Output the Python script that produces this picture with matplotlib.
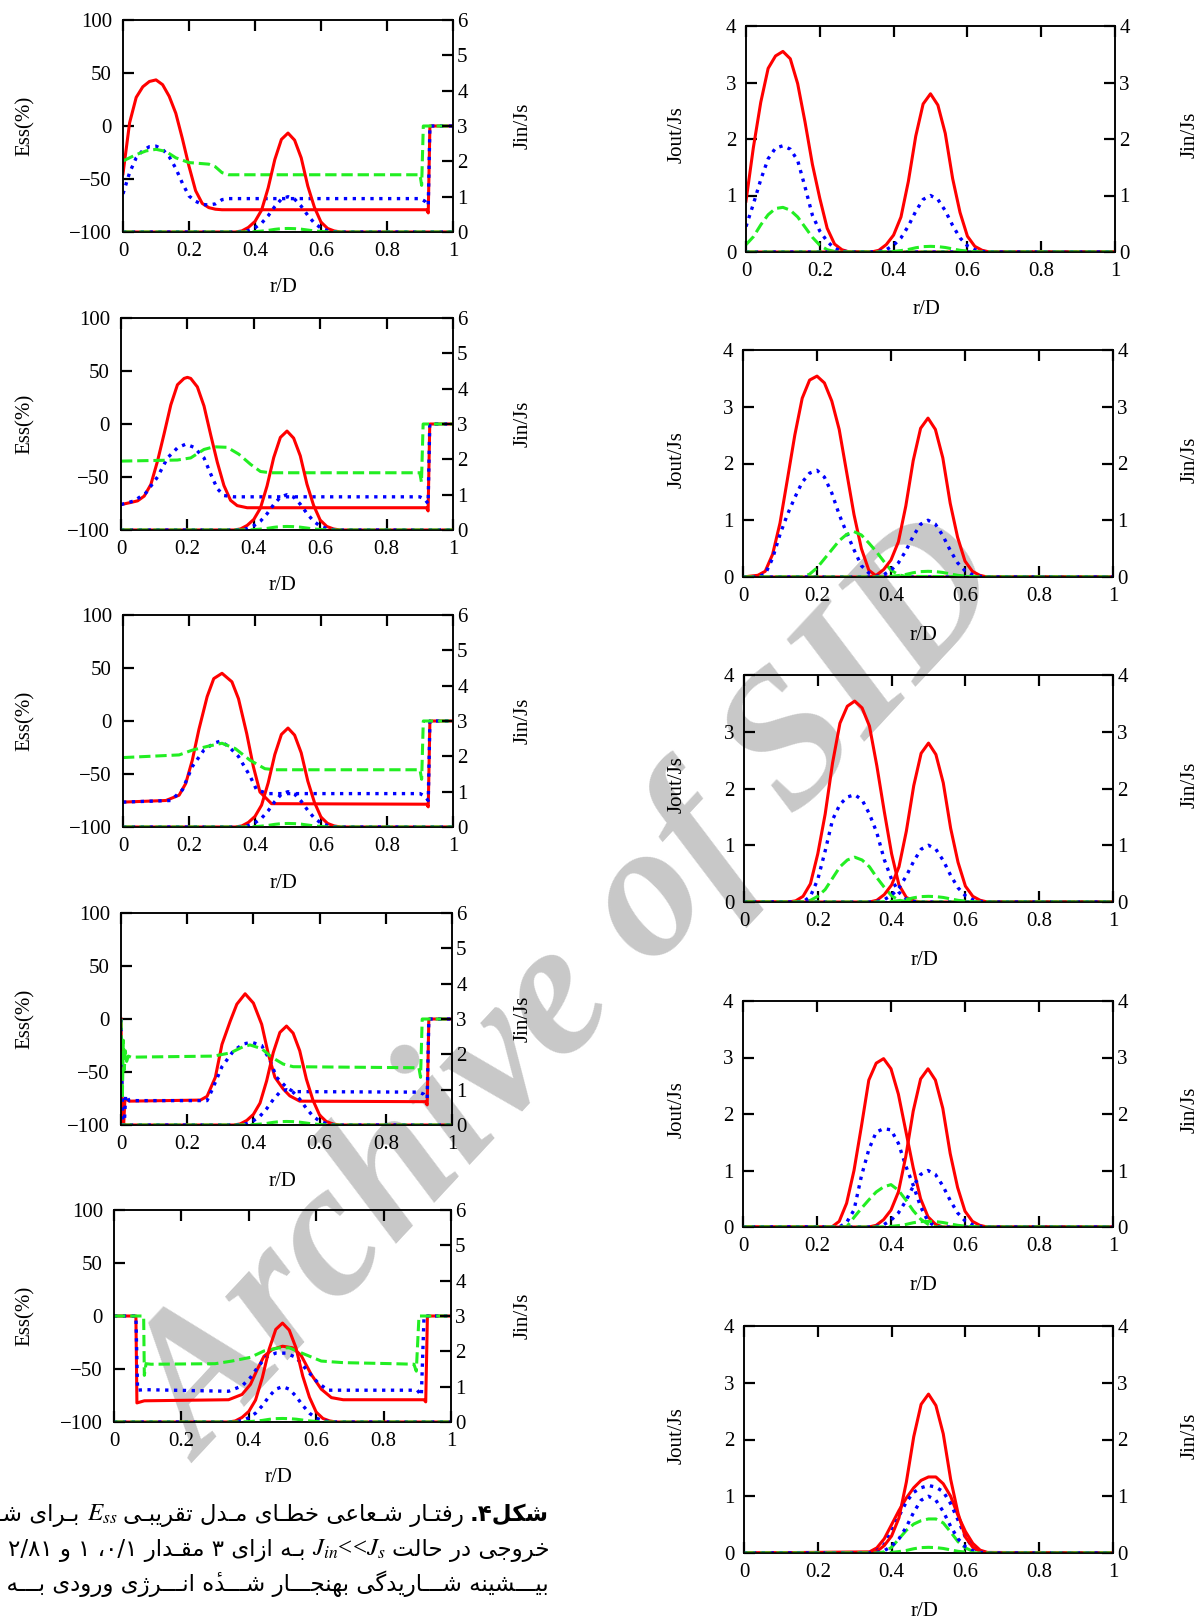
import re
import matplotlib
matplotlib.use('Agg')
import matplotlib.pyplot as plt

plt.rcParams['font.family'] = ['Liberation Serif', 'DejaVu Sans']
plt.rcParams['mathtext.fontset'] = 'stix'

W, H = 1202, 1622

# ---------------- data ----------------
rTicks = [0, 0.2, 0.4, 0.6, 0.8, 1.0]
rTickLabels = ['0', '0.2', '0.4', '0.6', '0.8', '1']
essTicks = [-100, -50, 0, 50, 100]
jinTicksLeft = [0, 1, 2, 3, 4, 5, 6]
joutTicks = [0, 1, 2, 3, 4]

# input flux Jin/Js (same in every panel)
jinX = [0.0, 0.34, 0.36, 0.38, 0.40, 0.42, 0.44, 0.46, 0.48, 0.50, 0.52, 0.54, 0.56, 0.58, 0.60, 0.62, 0.64, 0.66, 1.0]
jinRed = [0, 0, 0.03, 0.13, 0.3, 0.62, 1.25, 2.05, 2.62, 2.8, 2.6, 2.1, 1.3, 0.7, 0.28, 0.1, 0.03, 0, 0]
jinBlue = [0, 0, 0.01, 0.04, 0.12, 0.25, 0.46, 0.72, 0.93, 1.0, 0.93, 0.73, 0.47, 0.25, 0.11, 0.04, 0.01, 0, 0]
jinGreen = [0, 0, 0, 0.005, 0.01, 0.025, 0.045, 0.075, 0.095, 0.1, 0.095, 0.08, 0.055, 0.03, 0.015, 0.005, 0, 0, 0]

# output flux Jout/Js, right column
r1X = [0, 0.02, 0.04, 0.06, 0.08, 0.10, 0.12, 0.14, 0.16, 0.18, 0.20, 0.22, 0.24, 0.26, 0.28, 1.0]
r1Red = [0.9, 1.85, 2.65, 3.25, 3.47, 3.55, 3.42, 2.98, 2.3, 1.55, 0.95, 0.42, 0.14, 0.04, 0, 0]
r1Blue = [0.45, 0.85, 1.28, 1.65, 1.84, 1.88, 1.82, 1.62, 1.15, 0.65, 0.37, 0.19, 0.06, 0.02, 0, 0]
r1Green = [0.13, 0.27, 0.48, 0.66, 0.77, 0.79, 0.74, 0.62, 0.44, 0.26, 0.12, 0.04, 0.01, 0, 0, 0]

r2X = [0, 0.04, 0.06, 0.08, 0.10, 0.12, 0.14, 0.16, 0.18, 0.20, 0.22, 0.24, 0.26, 0.28, 0.30, 0.32, 0.34, 0.36, 0.38, 0.40, 0.42, 0.44, 1.0]
r2Red = [0, 0.03, 0.1, 0.4, 0.95, 1.72, 2.5, 3.15, 3.47, 3.54, 3.42, 3.1, 2.6, 1.85, 1.1, 0.5, 0.12, 0.02, 0, 0, 0, 0, 0]
r2Blue = [0, 0, 0.05, 0.33, 0.75, 1.1, 1.4, 1.67, 1.83, 1.88, 1.76, 1.48, 1.1, 0.78, 0.48, 0.2, 0.07, 0.02, 0, 0, 0, 0, 0]
r2Green = [0, 0, 0, 0, 0, 0, 0, 0, 0.05, 0.16, 0.32, 0.48, 0.64, 0.75, 0.8, 0.74, 0.6, 0.45, 0.28, 0.12, 0.04, 0.01, 0]

r3X = [0, 0.12, 0.14, 0.16, 0.18, 0.20, 0.22, 0.24, 0.26, 0.28, 0.30, 0.32, 0.34, 0.36, 0.38, 0.40, 0.42, 0.44, 0.46, 0.48, 1.0]
r3Red = [0, 0, 0.02, 0.1, 0.32, 0.85, 1.55, 2.45, 3.15, 3.45, 3.54, 3.42, 3.1, 2.4, 1.6, 0.85, 0.3, 0.08, 0.02, 0, 0]
r3Blue = [0, 0, 0, 0, 0.1, 0.4, 0.9, 1.45, 1.72, 1.85, 1.89, 1.8, 1.55, 1.22, 0.75, 0.4, 0.17, 0.05, 0.01, 0, 0]
r3Green = [0, 0, 0, 0, 0.03, 0.1, 0.22, 0.42, 0.62, 0.74, 0.79, 0.74, 0.62, 0.43, 0.26, 0.11, 0.03, 0.01, 0, 0, 0]

r4X = [0, 0.24, 0.26, 0.28, 0.30, 0.32, 0.34, 0.36, 0.38, 0.40, 0.42, 0.44, 0.46, 0.48, 0.50, 0.52, 0.54, 1.0]
r4Red = [0, 0, 0.1, 0.42, 1.0, 1.78, 2.6, 2.9, 2.98, 2.8, 2.35, 1.7, 1.05, 0.5, 0.18, 0.05, 0, 0]
r4Blue = [0, 0, 0, 0.08, 0.3, 0.9, 1.37, 1.68, 1.74, 1.72, 1.48, 1.08, 0.74, 0.36, 0.1, 0.01, 0, 0]
r4Green = [0, 0, 0, 0, 0.17, 0.33, 0.48, 0.62, 0.71, 0.75, 0.65, 0.48, 0.29, 0.14, 0.05, 0, 0, 0]

r5X = [0, 0.34, 0.36, 0.38, 0.40, 0.42, 0.44, 0.46, 0.48, 0.50, 0.52, 0.54, 0.56, 0.58, 0.60, 0.62, 0.64, 0.66, 1.0]
r5Red = [0, 0.02, 0.09, 0.25, 0.5, 0.75, 0.97, 1.15, 1.28, 1.34, 1.34, 1.22, 1.0, 0.66, 0.38, 0.17, 0.05, 0.01, 0]
r5Blue = [0, 0, 0.04, 0.15, 0.38, 0.65, 0.9, 1.07, 1.15, 1.19, 1.16, 1.08, 0.87, 0.58, 0.28, 0.1, 0.02, 0, 0]
r5Green = [0, 0, 0, 0.02, 0.1, 0.25, 0.4, 0.51, 0.57, 0.6, 0.6, 0.53, 0.37, 0.2, 0.09, 0.03, 0, 0, 0]

# error Ess(%), left column
l1RedX = [0, 0.02, 0.04, 0.06, 0.08, 0.10, 0.12, 0.14, 0.16, 0.18, 0.20, 0.22, 0.24, 0.26, 0.28, 0.30, 0.92, 0.925, 0.93, 1.0]
l1Red = [-45, 3, 27, 37, 42, 43.5, 39, 28, 12, -12, -38, -61, -73, -77, -78.5, -79, -79, -82, 0, 0]
l1BlueX = [0, 0.02, 0.04, 0.06, 0.08, 0.10, 0.12, 0.14, 0.16, 0.18, 0.20, 0.22, 0.24, 0.26, 0.28, 0.30, 0.32, 0.90, 0.915, 0.925, 0.93, 1.0]
l1Blue = [-64, -44, -30, -23, -19.5, -19, -22, -29, -40, -54, -66, -71, -74, -74.5, -73.5, -69.5, -68.5, -68.5, -71, -75, 0, 0]
l1GreenX = [0, 0.04, 0.07, 0.10, 0.13, 0.16, 0.20, 0.26, 0.28, 0.30, 0.32, 0.90, 0.905, 0.91, 1.0]
l1Green = [-33, -27, -23.5, -22, -24, -30, -34.5, -36, -38.5, -44, -46, -46, -56, 0, 0]

l2RedX = [0, 0.03, 0.05, 0.07, 0.09, 0.11, 0.13, 0.15, 0.17, 0.19, 0.20, 0.21, 0.23, 0.25, 0.27, 0.29, 0.31, 0.33, 0.35, 0.38, 0.92, 0.925, 0.93, 1.0]
l2Red = [-76, -74, -72.5, -68, -57, -35, -9, 18, 37, 43, 44, 43, 35, 17, -10, -36, -58, -72, -77, -79, -79, -82, 0, 0]
l2BlueX = [0, 0.04, 0.075, 0.11, 0.14, 0.17, 0.195, 0.22, 0.25, 0.27, 0.29, 0.31, 0.34, 0.90, 0.915, 0.925, 0.93, 1.0]
l2Blue = [-76, -72.5, -65, -50, -32, -22.5, -19, -22, -32, -47, -61, -67.5, -68.7, -68.7, -71, -75, 0, 0]
l2GreenX = [0, 0.17, 0.21, 0.25, 0.28, 0.32, 0.355, 0.39, 0.42, 0.45, 0.90, 0.905, 0.91, 1.0]
l2Green = [-35, -34, -32, -24, -21.5, -22, -28.5, -38, -44.8, -46, -46, -55, 0, 0]

l3RedX = [0, 0.13, 0.17, 0.19, 0.21, 0.23, 0.255, 0.275, 0.30, 0.33, 0.35, 0.375, 0.395, 0.415, 0.45, 0.92, 0.925, 0.93, 1.0]
l3Red = [-76.5, -75, -70, -59, -37, -8, 23, 40, 45, 37, 21, -12, -43, -67, -78, -78.5, -81, 0, 0]
l3BlueX = [0, 0.145, 0.18, 0.21, 0.245, 0.275, 0.295, 0.32, 0.35, 0.385, 0.405, 0.44, 0.90, 0.915, 0.925, 0.93, 1.0]
l3Blue = [-76.5, -75, -65, -43, -27.5, -21, -19, -24, -33.5, -52, -65, -68.5, -68.5, -71, -75, 0, 0]
l3GreenX = [0, 0.17, 0.21, 0.255, 0.30, 0.34, 0.385, 0.43, 0.46, 0.90, 0.905, 0.91, 1.0]
l3Green = [-34.5, -32, -27.5, -24, -21, -26, -37, -45, -46, -46, -55, 0, 0]

l4RedX = [0, 0.004, 0.008, 0.012, 0.025, 0.24, 0.26, 0.285, 0.305, 0.33, 0.35, 0.375, 0.40, 0.425, 0.445, 0.465, 0.49, 0.51, 0.54, 0.92, 0.925, 0.93, 1.0]
l4Red = [0, -100, -100, -75, -77.5, -76.5, -73, -55, -24, -2, 14, 23.8, 15, -5, -33, -55, -66, -72.5, -77.5, -78, -81, 0, 0]
l4BlueX = [0, 0.005, 0.01, 0.014, 0.025, 0.26, 0.275, 0.305, 0.34, 0.37, 0.395, 0.425, 0.45, 0.47, 0.50, 0.52, 0.90, 0.915, 0.925, 0.93, 1.0]
l4Blue = [0, -100, -100, -72, -77, -77, -67, -45, -30, -23.5, -22, -25, -39, -55, -64.5, -68.5, -69, -71, -75, 0, 0]
l4GreenX = [0, 0.004, 0.007, 0.010, 0.013, 0.017, 0.022, 0.03, 0.28, 0.33, 0.37, 0.39, 0.425, 0.455, 0.49, 0.52, 0.90, 0.905, 0.91, 1.0]
l4Green = [0, -75, -20, -48, -30, -40, -35, -36, -35, -32, -26, -24.5, -28, -36, -42.5, -45, -46, -55, 0, 0]

l5RedX = [0, 0.065, 0.068, 0.09, 0.34, 0.38, 0.405, 0.425, 0.445, 0.47, 0.50, 0.53, 0.555, 0.585, 0.615, 0.645, 0.68, 0.92, 0.925, 0.93, 1.0]
l5Red = [0, 0, -82, -80, -79, -74, -64.5, -50.5, -38, -31.5, -28.5, -30, -37, -55, -69, -77, -79, -79, -81, 0, 0]
l5BlueX = [0, 0.065, 0.07, 0.09, 0.34, 0.38, 0.405, 0.425, 0.45, 0.48, 0.51, 0.54, 0.575, 0.605, 0.635, 0.90, 0.912, 0.92, 1.0]
l5Blue = [0, 0, -70, -69.5, -71, -66, -58, -49, -39, -35, -35, -39, -52, -63, -70, -70, -75, 0, 0]
l5GreenX = [0, 0.088, 0.09, 0.095, 0.11, 0.30, 0.35, 0.405, 0.445, 0.49, 0.52, 0.565, 0.615, 0.68, 0.83, 0.89, 0.897, 0.905, 1.0]
l5Green = [0, 0, -56, -45, -45.5, -45, -42.5, -39, -33, -30, -30, -36, -42.5, -44, -45, -45.5, -52, 0, 0]

captionLine1 = [('شکل۴.', 'bold'), ('رفتـار شـعاعی خطـای مـدل تقریبـی', 'fa'), (r'$E_{ss}$', 'math'), ('بـرای شـار', 'fa')]
captionLine2 = [('خروجی در حالت', 'fa'), (r'$J_{in}$<<$J_s$', 'math'), ('بـه ازای ۳ مقـدار ۰/۱، ۱ و ۲/۸۱', 'fa')]
captionLine3 = [('بیـــشینه شـــاریدگی بهنجـــار شـــدۀ انـــرژی ورودی بـــه تقـــسیم', 'fa')]

# ---------------- style ----------------
RED, BLUE, GREEN = '#ff0000', '#0000ff', '#22ee22'
styles = [dict(color=RED, ls='-', lw=2.2),
          dict(color=BLUE, ls=':', lw=2.4),
          dict(color=GREEN, ls='--', lw=2.2)]

# pixel boxes (left, right, top, bottom)
leftBoxes = [(123, 453, 20, 232), (121, 453, 318, 530), (123, 453, 615, 827),
             (121, 452, 913, 1125), (114, 451, 1210, 1422)]
rightBoxes = [(746, 1115, 26, 252), (743, 1113, 350, 577), (744, 1113, 675, 902),
              (743, 1113, 1001, 1227), (744, 1113, 1326, 1553)]

FS = 15

fig = plt.figure(figsize=(W / 100, H / 100), dpi=100)
fig.patch.set_facecolor('white')


def fx(px):
    return px / W


def fy(py):
    return 1 - py / H


def make_axes(box):
    l, r, t, b = box
    ax = fig.add_axes([fx(l), fy(b), (r - l) / W, (b - t) / H])
    ax.set_facecolor('none')
    for sp in ax.spines.values():
        sp.set_linewidth(1.1)
    ax.set_xlim(0, 1)
    ax.set_xticks(rTicks)
    ax.set_xticklabels(rTickLabels)
    ax.tick_params(direction='in', length=8, width=1.6, labelsize=FS,
                   top=True, bottom=True, left=True, right=False)
    ax.tick_params(axis='x', pad=7)
    return ax


def left_panel(box, curves):
    l, r, t, b = box
    ax = make_axes(box)
    for (x, y), st in zip(curves, styles):
        ax.plot(x, y, **st)
    ax.set_ylim(-100, 100)
    ax.set_yticks(essTicks)
    ax.tick_params(axis='y', pad=8)
    tw = ax.twinx()
    for y, st in zip([jinRed, jinBlue, jinGreen], styles):
        tw.plot(jinX, y, **st)
    tw.set_ylim(0, 6)
    tw.set_yticks(jinTicksLeft)
    tw.set_yticklabels([str(v) for v in jinTicksLeft])
    tw.tick_params(direction='in', length=8, width=1.6, labelsize=FS, pad=3)
    for sp in tw.spines.values():
        sp.set_linewidth(1.1)
    cy = fy((t + b) / 2)
    fig.text(fx(25), cy, 'Ess(%)', rotation=90, ha='center', va='center', fontsize=FS)
    fig.text(fx(523), cy, 'Jin/Js', rotation=90, ha='center', va='center', fontsize=FS)
    fig.text(fx((l + r) / 2 - 4), fy(b + 56), 'r/D', ha='center', va='center', fontsize=FS)


def right_panel(box, x, ys):
    l, r, t, b = box
    ax = make_axes(box)
    for y, st in zip(ys, styles):
        ax.plot(x, y, **st)
    ax.set_ylim(0, 4)
    ax.set_yticks(joutTicks)
    ax.set_yticklabels([str(v) for v in joutTicks])
    ax.tick_params(axis='y', pad=7)
    tw = ax.twinx()
    for y, st in zip([jinRed, jinBlue, jinGreen], styles):
        tw.plot(jinX, y, **st)
    tw.set_ylim(0, 4)
    tw.set_yticks(joutTicks)
    tw.set_yticklabels([str(v) for v in joutTicks])
    tw.tick_params(direction='in', length=8, width=1.6, labelsize=FS, pad=3)
    for sp in tw.spines.values():
        sp.set_linewidth(1.1)
    cy = fy((t + b) / 2 - 4)
    fig.text(fx(677), cy, 'Jout/Js', rotation=90, ha='center', va='center', fontsize=FS)
    fig.text(fx(1190), cy, 'Jin/Js', rotation=90, ha='center', va='center', fontsize=FS)
    fig.text(fx((l + r) / 2 - 4), fy(b + 58), 'r/D', ha='center', va='center', fontsize=FS)


leftCurves = [
    [(l1RedX, l1Red), (l1BlueX, l1Blue), (l1GreenX, l1Green)],
    [(l2RedX, l2Red), (l2BlueX, l2Blue), (l2GreenX, l2Green)],
    [(l3RedX, l3Red), (l3BlueX, l3Blue), (l3GreenX, l3Green)],
    [(l4RedX, l4Red), (l4BlueX, l4Blue), (l4GreenX, l4Green)],
    [(l5RedX, l5Red), (l5BlueX, l5Blue), (l5GreenX, l5Green)],
]
rightCurves = [
    (r1X, [r1Red, r1Blue, r1Green]),
    (r2X, [r2Red, r2Blue, r2Green]),
    (r3X, [r3Red, r3Blue, r3Green]),
    (r4X, [r4Red, r4Blue, r4Green]),
    (r5X, [r5Red, r5Blue, r5Green]),
]

for box, cv in zip(leftBoxes, leftCurves):
    left_panel(box, cv)
for box, (x, ys) in zip(rightBoxes, rightCurves):
    right_panel(box, x, ys)

# watermark behind the axes
fig.text(fx(574), fy(995), 'Archive of SID', fontsize=138, family='Liberation Serif',
         weight='bold', style='italic', color='#c8c8c8', rotation=47,
         ha='center', va='center', zorder=-1)

# ---------------- persian caption (manual shaping, right-to-left) ----------------
FORMS = {
    'ب': '\uFE8F\uFE90\uFE91\uFE92', 'پ': '\uFB56\uFB57\uFB58\uFB59',
    'ت': '\uFE95\uFE96\uFE97\uFE98', 'ث': '\uFE99\uFE9A\uFE9B\uFE9C',
    'ج': '\uFE9D\uFE9E\uFE9F\uFEA0', 'چ': '\uFB7A\uFB7B\uFB7C\uFB7D',
    'ح': '\uFEA1\uFEA2\uFEA3\uFEA4', 'خ': '\uFEA5\uFEA6\uFEA7\uFEA8',
    'س': '\uFEB1\uFEB2\uFEB3\uFEB4', 'ش': '\uFEB5\uFEB6\uFEB7\uFEB8',
    'ص': '\uFEB9\uFEBA\uFEBB\uFEBC', 'ض': '\uFEBD\uFEBE\uFEBF\uFEC0',
    'ط': '\uFEC1\uFEC2\uFEC3\uFEC4', 'ظ': '\uFEC5\uFEC6\uFEC7\uFEC8',
    'ع': '\uFEC9\uFECA\uFECB\uFECC', 'غ': '\uFECD\uFECE\uFECF\uFED0',
    'ف': '\uFED1\uFED2\uFED3\uFED4', 'ق': '\uFED5\uFED6\uFED7\uFED8',
    'ک': '\uFB8E\uFB8F\uFB90\uFB91', 'گ': '\uFB92\uFB93\uFB94\uFB95',
    'ل': '\uFEDD\uFEDE\uFEDF\uFEE0', 'م': '\uFEE1\uFEE2\uFEE3\uFEE4',
    'ن': '\uFEE5\uFEE6\uFEE7\uFEE8', 'ه': '\uFEE9\uFEEA\uFEEB\uFEEC',
    'ی': '\uFBFC\uFBFD\uFBFE\uFBFF', 'ـ': '\u0640\u0640\u0640\u0640',
    'ا': '\uFE8D\uFE8E', 'آ': '\uFE81\uFE82', 'د': '\uFEA9\uFEAA',
    'ذ': '\uFEAB\uFEAC', 'ر': '\uFEAD\uFEAE', 'ز': '\uFEAF\uFEB0',
    'ژ': '\uFB8A\uFB8B', 'و': '\uFEED\uFEEE',
    # heh + hamza above; mark kept after its base once the run is reversed
    'ۀ': ('\u0654\uFEE9', '\u0654\uFEEA'),
}
DIG = '0123456789۰۱۲۳۴۵۶۷۸۹/'


def shape_run(s):
    out = []
    for i, ch in enumerate(s):
        f = FORMS.get(ch)
        if f is None:
            out.append(ch)
            continue
        prv = s[i - 1] if i > 0 else ''
        nxt = s[i + 1] if i < len(s) - 1 else ''
        jp = prv in FORMS and len(FORMS[prv]) == 4
        jn = nxt in FORMS and len(f) == 4
        if len(f) == 2:
            out.append(f[1] if jp else f[0])
        else:
            out.append(f[3] if jp and jn else f[1] if jp else f[2] if jn else f[0])
    return ''.join(out)


def visual(s):
    words = []
    for w in reversed(s.split(' ')):
        runs = re.findall('[%s]+|[^%s]+' % (DIG, DIG), w)
        parts = [r if r[0] in DIG else shape_run(r)[::-1] for r in runs]
        words.append(''.join(reversed(parts)))
    return ' '.join(words)


renderer = fig.canvas.get_renderer()
CAP_FS = 16.5
GAP = 6


def rtl_line(pieces, xRight, yBase):
    x = xRight
    for txt, kind in pieces:
        if kind == 'math':
            t = fig.text(fx(x), fy(yBase), txt, ha='right', va='baseline', fontsize=CAP_FS + 1.5)
        else:
            t = fig.text(fx(x), fy(yBase), visual(txt), ha='right', va='baseline',
                         fontsize=CAP_FS, family=['DejaVu Sans'],
                         weight='bold' if kind == 'bold' else 'normal')
        x -= t.get_window_extent(renderer).width + GAP


rtl_line(captionLine1, 549, 1521)
rtl_line(captionLine2, 549, 1556)
rtl_line(captionLine3, 549, 1591)

fig.savefig('out.png', dpi=100)
